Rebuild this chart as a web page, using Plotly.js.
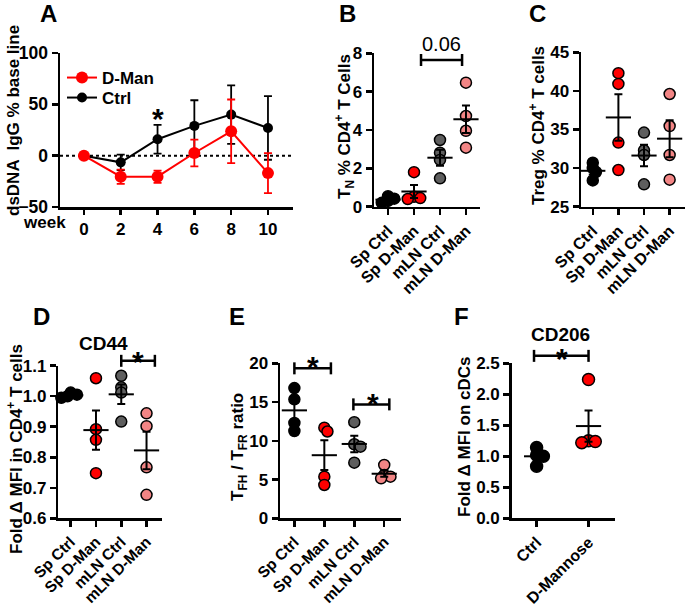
<!DOCTYPE html>
<html><head><meta charset="utf-8">
<script src="https://cdn.plot.ly/plotly-3.0.1.min.js"></script>
<style>html,body{margin:0;padding:0;background:#fff}#chart{width:685px;height:606px}</style>
</head><body><div id="chart"></div>
<script>
// ---------- Panel A: dsDNA IgG % base line ----------
const weeks = [0, 2, 4, 6, 8, 10];
const ctrlMean = [0, -6.5, 16, 29, 40, 27];
const ctrlSem  = [0, 7.5, 14, 25, 28.5, 31];
const dmanMean = [0, -20.5, -20.5, 2.6, 23.7, -17];
const dmanSem  = [0, 7, 6, 13, 31, 19.5];

// ---------- Panels B-E groups ----------
const groups4 = ['Sp Ctrl', 'Sp D-Man', 'mLN Ctrl', 'mLN D-Man'];
// B: T_N % CD4+ T cells
const bSpCtrl  = [0.55, 0.42, 0.3, 0.2];
const bSpDMan  = [1.8, 0.52, 0.45, 0.4];
const bMlnCtrl = [3.48, 2.82, 2.44, 1.48];
const bMlnDMan = [6.47, 4.73, 3.96, 3.08];
// C: Treg % CD4+ T cells
const cSpCtrl  = [30.7, 30.0, 29.5, 28.4];
const cSpDMan  = [42.3, 40.9, 33.3, 29.75];
const cMlnCtrl = [34.6, 32.3, 31.7, 27.9];
const cMlnDMan = [39.6, 35.45, 31.7, 28.5];
// D: CD44 fold MFI
const dSpCtrl  = [1.012, 1.005, 1.0, 0.995];
const dSpDMan  = [1.059, 0.892, 0.857, 0.748];
const dMlnCtrl = [1.067, 1.029, 1.012, 0.917];
const dMlnDMan = [0.944, 0.902, 0.767, 0.677];
// E: TFH / TFR ratio
const eSpCtrl  = [16.8, 15.35, 12.3, 11.26];
const eSpDMan  = [11.7, 11.2, 5.37, 4.3];
const eMlnCtrl = [12.4, 9.55, 9.24, 7.18];
const eMlnDMan = [6.88, 5.59, 5.37, 5.16];
// F: CD206 on cDCs
const fGroups = ['Ctrl', 'D-Mannose'];
const fCtrl = [1.14, 1.02, 1.0, 0.84];
const fDMan = [2.24, 1.25, 1.24, 1.22];

const W = 685, H = 606;
const FONT = 'Liberation Sans, Arial, Helvetica, sans-serif';
const colors4 = ['#000000', '#ff0000', '#5e5e5e', '#f28585'];
const colorsF = ['#000000', '#ff0000'];
const px = v => v / W, py = v => 1 - v / H;

const mean = a => a.reduce((s, v) => s + v, 0) / a.length;
const sem = a => { const m = mean(a); const sd = Math.sqrt(a.reduce((s, v) => s + (v - m) * (v - m), 0) / (a.length - 1)); return sd / Math.sqrt(a.length); };

// simple symmetric dodge so overlapping points spread sideways a little
function dodge(vals, pxPerX, pxPerY, diam) {
  const placed = [];
  const res = new Array(vals.length).fill(0);
  const order = vals.map((v, i) => i).sort((a, b) => vals[b] - vals[a]);
  for (const i of order) {
    const yp = vals[i] * pxPerY;
    let best = 0;
    for (let k = 0; k < 30; k++) {
      const cand = k === 0 ? 0 : (k % 2 ? 1 : -1) * Math.ceil(k / 2) * diam * 0.25;
      if (placed.every(p => Math.hypot(p.x - cand, p.y - yp) >= diam * 0.36)) { best = cand; break; }
    }
    placed.push({ x: best, y: yp });
    res[i] = best / pxPerX;
  }
  return res;
}

const axBase = {
  showgrid: false, zeroline: false, showline: true, linecolor: '#000', linewidth: 2.5,
  ticks: 'outside', ticklen: 6, tickwidth: 2.5, tickcolor: '#000', fixedrange: true,
  tickfont: { family: FONT, size: 17, color: '#000', weight: 'bold' }
};

const data = [];
const legFont = { family: FONT, size: 17, weight: 'bold', color: '#000' };
const layout = {
  width: W, height: H, margin: { l: 0, r: 0, t: 0, b: 0 },
  paper_bgcolor: '#fff', plot_bgcolor: '#fff',
  font: { family: FONT, color: '#000' },
  showlegend: true,
  legend:  { x: px(62), y: py(60), xanchor: 'left', yanchor: 'top', bgcolor: 'rgba(0,0,0,0)', font: legFont, itemwidth: 30 },
  legend2: { x: px(62), y: py(80), xanchor: 'left', yanchor: 'top', bgcolor: 'rgba(0,0,0,0)', font: legFont, itemwidth: 30 },
  shapes: [], annotations: []
};

// axis geometry (pixel domains, data ranges)
const geo = {
  '': { xd: [60, 293], yd: [53, 207], xr: [-1.3, 11.36], yr: [-50, 100] }
};
function toPaper(id, x, y) {
  const g = geo[id];
  const xp = g.xd[0] + (x - g.xr[0]) / (g.xr[1] - g.xr[0]) * (g.xd[1] - g.xd[0]);
  const yp = g.yd[1] - (y - g.yr[0]) / (g.yr[1] - g.yr[0]) * (g.yd[1] - g.yd[0]);
  return [px(xp), py(yp)];
}

// Panel A
layout.xaxis = Object.assign({}, axBase, {
  domain: [px(60), px(293)], range: geo[''].xr, anchor: 'y',
  tickvals: weeks, ticktext: weeks.map(String), ticklen: 5
});
layout.yaxis = Object.assign({}, axBase, {
  domain: [py(207), py(53)], range: geo[''].yr, anchor: 'x', tickvals: [-50, 0, 50, 100],
  tickfont: { family: FONT, size: 17.5, color: '#000', weight: 'bold' }
});
data.push({
  x: weeks, y: ctrlMean, name: 'Ctrl', type: 'scatter', mode: 'lines+markers', legend: 'legend2',
  line: { color: '#000', width: 2 }, marker: { color: '#000', size: 10 },
  error_y: { type: 'data', array: ctrlSem, color: '#000', thickness: 1.8, width: 4 },
  xaxis: 'x', yaxis: 'y', cliponaxis: false, hoverinfo: 'skip'
});
data.push({
  x: weeks, y: dmanMean, name: 'D-Man', type: 'scatter', mode: 'lines+markers', legend: 'legend',
  line: { color: '#ff0000', width: 2 }, marker: { color: '#ff0000', size: 12 },
  error_y: { type: 'data', array: dmanSem, color: '#ff0000', thickness: 1.8, width: 4 },
  xaxis: 'x', yaxis: 'y', cliponaxis: false, hoverinfo: 'skip'
});
layout.shapes.push({ type: 'line', xref: 'x domain', yref: 'y', x0: 0, x1: 1, y0: 0, y1: 0, line: { color: '#000', width: 2, dash: 'dot' }, layer: 'below' });

// Panels B-F
const panels = [
  { id: 2, xd: [374, 480], yd: [53.3, 206.7], xr: [-0.54, 3.54], yr: [0, 8], dtick: 2, fmt: '', cats: groups4, sets: [bSpCtrl, bSpDMan, bMlnCtrl, bMlnDMan], cols: colors4, ms: 11, xf: 16 },
  { id: 3, xd: [581, 685], yd: [52.3, 206.7], xr: [-0.46, 3.6], yr: [25, 45], dtick: 5, fmt: '', cats: groups4, sets: [cSpCtrl, cSpDMan, cMlnCtrl, cMlnDMan], cols: colors4, ms: 11, xf: 16 },
  { id: 4, xd: [58.3, 161.7], yd: [365.7, 518.3], xr: [-0.49, 3.6], yr: [0.6, 1.1], dtick: 0.1, fmt: '.1f', cats: groups4, sets: [dSpCtrl, dSpDMan, dMlnCtrl, dMlnDMan], cols: colors4, ms: 11, xf: 15.5 },
  { id: 5, xd: [280, 400.7], yd: [363.3, 518.3], xr: [-0.48, 3.55], yr: [0, 20], dtick: 5, fmt: '', cats: groups4, sets: [eSpCtrl, eSpDMan, eMlnCtrl, eMlnDMan], cols: colors4, ms: 11, xf: 15.5 },
  { id: 6, xd: [511.7, 615], yd: [363.3, 518.3], xr: [-0.48, 1.51], yr: [0, 2.5], dtick: 0.5, fmt: '.1f', cats: fGroups, sets: [fCtrl, fDMan], cols: colorsF, ms: 12, xf: 16 }
];

panels.forEach(p => {
  geo[p.id] = { xd: p.xd, yd: p.yd, xr: p.xr, yr: p.yr };
  const xa = 'x' + p.id, ya = 'y' + p.id;
  layout['xaxis' + p.id] = Object.assign({}, axBase, {
    domain: [px(p.xd[0]), px(p.xd[1])], range: p.xr, anchor: ya,
    tickvals: p.cats.map((c, i) => i), ticktext: p.cats, tickangle: -45, ticklen: 6,
    tickfont: { family: FONT, size: p.xf, color: '#000', weight: 'bold' }
  });
  layout['yaxis' + p.id] = Object.assign({}, axBase, {
    domain: [py(p.yd[1]), py(p.yd[0])], range: p.yr, anchor: xa,
    dtick: p.dtick, tick0: p.yr[0], tickformat: p.fmt
  });
  const pxPerX = (p.xd[1] - p.xd[0]) / (p.xr[1] - p.xr[0]);
  const pxPerY = (p.yd[1] - p.yd[0]) / (p.yr[1] - p.yr[0]);
  p.sets.forEach((vals, g) => {
    const offs = dodge(vals, pxPerX, pxPerY, p.ms + 1.5);
    data.push({
      x: vals.map((v, i) => g + offs[i]), y: vals, type: 'scatter', mode: 'markers',
      marker: { size: p.ms, color: p.cols[g], line: { color: '#000', width: 1.5 } },
      xaxis: xa, yaxis: ya, showlegend: false, cliponaxis: false, hoverinfo: 'skip'
    });
  });
  p.sets.forEach((vals, g) => {
    data.push({
      x: [g], y: [mean(vals)], type: 'scatter', mode: 'markers',
      marker: { symbol: 'line-ew-open', size: 18, color: '#000', line: { color: '#000', width: 2 } },
      error_y: { type: 'data', array: [sem(vals)], color: '#000', thickness: 2, width: 4 },
      xaxis: xa, yaxis: ya, showlegend: false, cliponaxis: false, hoverinfo: 'skip'
    });
  });
});

// significance brackets (drawn in paper space so they may sit above the axis range)
function bracket(id, x0, x1, y) {
  const a = toPaper(id, x0, y), b = toPaper(id, x1, y);
  layout.shapes.push({ type: 'line', xref: 'paper', yref: 'paper', x0: a[0], x1: b[0], y0: a[1], y1: a[1], line: { color: '#000', width: 2.5 } });
  [a[0], b[0]].forEach(x => layout.shapes.push({ type: 'line', xref: 'paper', yref: 'paper', x0: x, x1: x, ysizemode: 'pixel', yanchor: a[1], y0: -6, y1: 6, line: { color: '#000', width: 2.5 } }));
}
bracket(2, 1.27, 2.85, 7.65);
bracket(4, 2.0, 3.33, 1.116);
bracket(5, 0, 1.22, 19.35);
bracket(5, 1.97, 3.17, 14.7);
bracket(6, -0.05, 1.0, 2.62);

const ann = layout.annotations;
const boldF = (s) => ({ family: FONT, size: s, color: '#000', weight: 'bold' });
function star(id, x, y) {
  const p = toPaper(id, x, y);
  ann.push({ xref: 'paper', yref: 'paper', x: p[0], y: p[1], text: '*', showarrow: false, xanchor: 'center', yanchor: 'middle', font: boldF(30), yshift: -6 });
}
star('', 4, 42);
star(4, 2.66, 1.135);
star(5, 0.62, 20.4);
star(5, 2.62, 15.65);
star(6, 0.49, 2.68);
const p06 = toPaper(2, 2.04, 8.51);
ann.push({ xref: 'paper', yref: 'paper', x: p06[0], y: p06[1], text: '0.06', showarrow: false, xanchor: 'center', yanchor: 'middle', font: { family: FONT, size: 20, color: '#000' } });

// panel letters
[['A', 48, 14], ['B', 348, 14], ['C', 537, 14], ['D', 41, 317], ['E', 237, 317], ['F', 461, 317]].forEach(l => {
  ann.push({ xref: 'paper', yref: 'paper', x: px(l[1]), y: py(l[2]), text: l[0], showarrow: false, xanchor: 'center', yanchor: 'middle', font: boldF(24) });
});
// subplot titles
ann.push({ xref: 'paper', yref: 'paper', x: px(103), y: py(343), text: 'CD44', showarrow: false, xanchor: 'center', yanchor: 'middle', font: boldF(19) });
ann.push({ xref: 'paper', yref: 'paper', x: px(560), y: py(334), text: 'CD206', showarrow: false, xanchor: 'center', yanchor: 'middle', font: boldF(19) });
// week label
ann.push({ xref: 'paper', yref: 'paper', x: px(44), y: py(223), text: 'week', showarrow: false, xanchor: 'center', yanchor: 'middle', font: boldF(17) });
// y-axis titles
[
  ['dsDNA  IgG % base line', 13, 121],
  ['T<sub>N</sub> % CD4<sup>+</sup> T Cells', 344, 127],
  ['Treg % CD4<sup>+</sup> T cells', 537, 126],
  ['Fold \u0394 MFI in CD4<sup>+</sup> T cells', 15, 449],
  ['T<sub>FH</sub> / T<sub>FR</sub> ratio', 239, 447],
  ['Fold \u0394 MFI on cDCs', 464, 437]
].forEach(t => {
  ann.push({ xref: 'paper', yref: 'paper', x: px(t[1]), y: py(t[2]), text: t[0], textangle: -90, showarrow: false, xanchor: 'center', yanchor: 'middle', font: boldF(17) });
});

Plotly.newPlot('chart', data, layout, { staticPlot: true, displayModeBar: false });
</script>
</body></html>
